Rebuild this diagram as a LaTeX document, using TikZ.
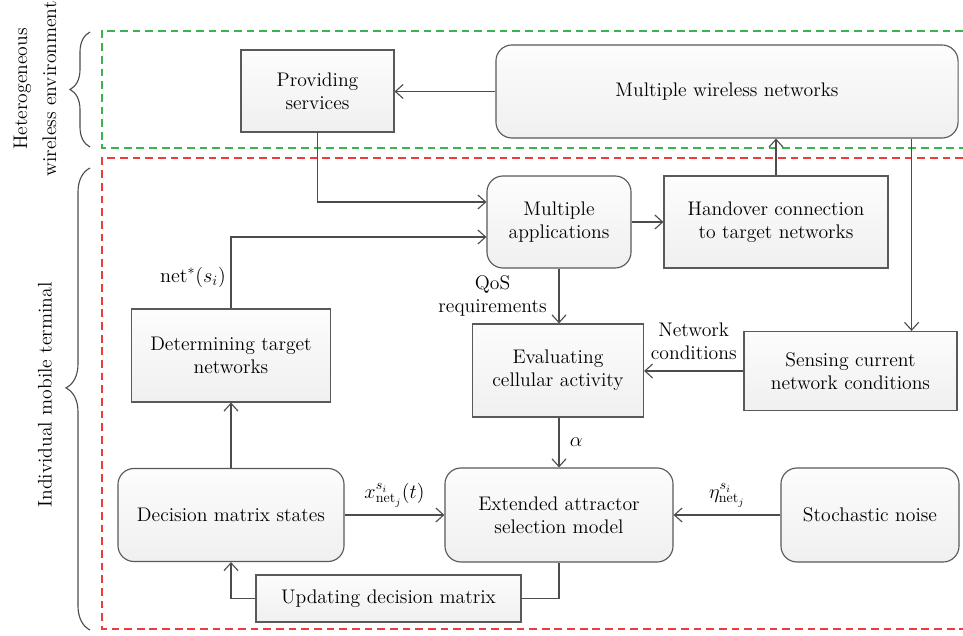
\documentclass[tikz,border=0pt]{standalone}
\usepackage{tikz}
\usetikzlibrary{
  arrows.meta,
  calc,
  decorations.pathreplacing
}
\definecolor{envgreen}{RGB}{60,178,80}
\definecolor{termred}{RGB}{238,60,60}
\tikzset{
  plain box/.style={draw=black!65,line width=0.8pt,top color=gray!2,bottom color=gray!12,
    align=center,inner sep=0pt},
  round box/.style={plain box,rounded corners=0.4cm},
  flow/.style={draw=black!70,line width=0.8pt},
  flow arrow/.style={flow,-{Straight Barb[length=5.5pt,width=10pt]}},
  frame line/.style={line width=1pt,dash pattern=on 5.5pt off 3.5pt},
  side brace/.style={draw=black!70,line width=0.8pt,decorate},
}

\begin{document}
\begin{tikzpicture}[
  x=0.025cm,y=-0.025cm,
  font=\fontsize{14}{16.5}\selectfont,
]
\useasboundingbox (0,0) rectangle (963,636);

\draw[frame line,envgreen] (963,31) -| (102,148) -- (963,148);
\draw[frame line,termred] (963,158) -| (102,629) -- (963,629);
\draw[side brace,decoration={brace,amplitude=0.5cm}] (90,147) -- (90,32);
\draw[side brace,decoration={brace,amplitude=0.6cm,aspect=0.524}] (90,630) -- (90,168);
\node[rotate=90,align=center] (env-label) at (35,89) {Heterogeneous\\[4pt]wireless environment};
\node[rotate=90] (term-label) at (45,395) {Individual mobile terminal};

\node[plain box,minimum width=3.825cm,minimum height=2.05cm] (providing) at (317.5,91) {Providing\\services};
\node[round box,minimum width=11.55cm,minimum height=2.325cm] (wireless-nets) at (727,91.5) {Multiple wireless networks};
\node[round box,minimum width=3.6cm,minimum height=2.3cm] (multi-apps) at (559,222) {Multiple\\applications};
\node[plain box,minimum width=5.6cm,minimum height=2.3cm] (handover) at (776,222) {Handover connection\\to target networks};
\node[plain box,minimum width=4.975cm,minimum height=2.325cm] (determining) at (231,355.5) {Determining target\\networks};
\node[plain box,minimum width=4.275cm,minimum height=2.325cm] (evaluating) at (558,370.5) {Evaluating\\cellular activity};
\node[plain box,minimum width=5.325cm,minimum height=1.975cm] (sensing) at (850.5,371) {Sensing current\\network conditions};
\node[round box,minimum width=5.65cm,minimum height=2.325cm] (decision) at (231,515) {Decision matrix states};
\node[round box,minimum width=5.7cm,minimum height=2.35cm] (attractor) at (559,515) {Extended attractor\\selection model};
\node[round box,minimum width=4.45cm,minimum height=2.35cm] (noise) at (870,515) {Stochastic noise};
\node[plain box,minimum width=6.625cm,minimum height=1.175cm] (updating) at (388.5,598.5) {Updating decision matrix};

\coordinate (apps-in-a) at ($(multi-apps.west)+(0,-20)$);
\coordinate (apps-in-b) at ($(multi-apps.west)+(0,15)$);
\coordinate (sensing-in) at ($(sensing.north east)+(-46,0)$);

\draw[flow arrow] (wireless-nets.west) -- (wireless-nets.west -| providing.east);
\draw[flow arrow] (providing.south) |- (apps-in-a);
\draw[flow arrow] (handover.north) -- (handover.north |- wireless-nets.south);
\draw[flow arrow] (wireless-nets.south -| sensing-in) -- (sensing-in);
\draw[flow arrow] (multi-apps.east) -- (handover.west);
\draw[flow arrow] (determining.north) |- node[pos=0.22,left] {$\mathrm{net}^*(s_i)$} (apps-in-b);
\draw[flow arrow] (multi-apps.south) -- node[midway,left=5pt,align=center] {QoS\\requirements} (multi-apps.south |- evaluating.north);
\draw[flow arrow] (sensing.west) -- node[midway,above=4pt,align=center] {Network\\conditions} (sensing.west -| evaluating.east);
\draw[flow arrow] (evaluating.south -| attractor.north) -- node[midway,right=4pt] {$\alpha$} (attractor.north);
\draw[flow arrow] (decision.east) -- node[midway,above=2pt] {$x^{s_i}_{\mathrm{net}_j}(t)$} (attractor.west);
\draw[flow arrow] (noise.west) -- node[midway,above=2pt] {$\eta^{s_i}_{\mathrm{net}_j}$} (attractor.east);
\draw[flow] (attractor.south) |- (updating.east);
\draw[flow arrow] (updating.west) -| (decision.south);
\draw[flow arrow] (decision.north) -- (determining.south);
\end{tikzpicture}
\end{document}
